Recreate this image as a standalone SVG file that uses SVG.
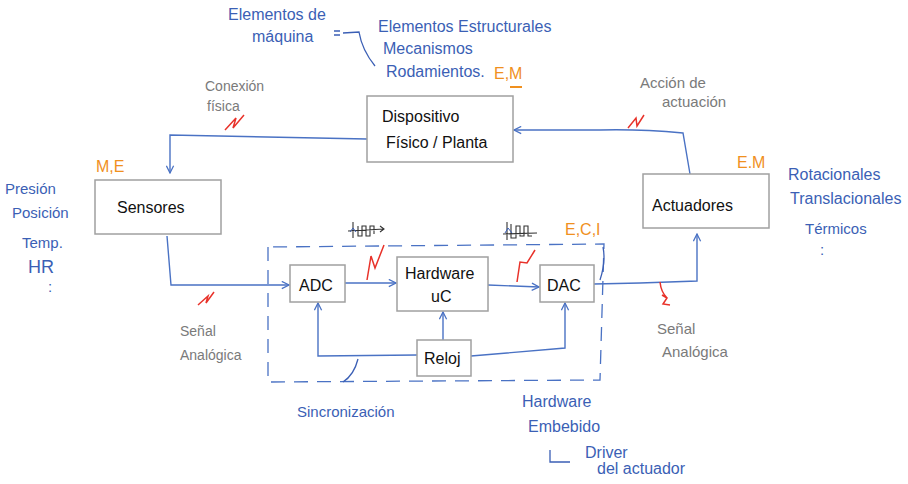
<svg xmlns="http://www.w3.org/2000/svg" width="908" height="484" viewBox="0 0 908 484">
<style>
.box{fill:#fff;stroke:#a0a0a0;stroke-width:1.5}
.lbl{font-family:"Liberation Sans",Arial,sans-serif;font-size:16px;fill:#111}
.blue{font-family:"Liberation Sans",Arial,sans-serif;font-size:15px;fill:#3b5fb5}
.gray{font-family:"Liberation Sans",Arial,sans-serif;font-size:14px;fill:#7a7a7a}
.orn{font-family:"Liberation Sans",Arial,sans-serif;font-size:16px;fill:#f0901e}
.con{fill:none;stroke:#4a72c4;stroke-width:1.4}
.dash{fill:none;stroke:#4a72c4;stroke-width:1.3;stroke-dasharray:14 9}
.red{fill:none;stroke:#e8322a;stroke-width:1.5}
.ink{fill:none;stroke:#3b5fb5;stroke-width:1.3}
</style>
<defs>
<marker id="ah" viewBox="0 0 10 10" refX="9" refY="5" markerWidth="9" markerHeight="9" orient="auto" markerUnits="userSpaceOnUse">
<path d="M1,1 L9,5 L1,9" fill="none" stroke="#4a72c4" stroke-width="1.4"/>
</marker>
</defs>
<rect width="908" height="484" fill="#fff"/>

<g id="connectors">
<path class="con" d="M367,139 L170,135 L170,173" marker-end="url(#ah)"/>
<path class="con" d="M690,174 L683,133 Q640,129 600,130 L514,130" marker-end="url(#ah)"/>
<path class="con" d="M167,236 L171,285 L289,285" marker-end="url(#ah)"/>
<path class="con" d="M345,283 L396,283" marker-end="url(#ah)"/>
<path class="con" d="M488,285 L539,287" marker-end="url(#ah)"/>
<path class="con" d="M594,284 L640,283 L697,281 L697,234" marker-end="url(#ah)"/>
<path class="con" d="M443,340 L443,312" marker-end="url(#ah)"/>
<path class="con" d="M417,355 L318,356 L318,303" marker-end="url(#ah)"/>
<path class="con" d="M471,356 L565,348 L565,303" marker-end="url(#ah)"/>
<path class="dash" d="M268,247 L268,382 L600,380 L604,244 L268,247"/>
</g>

<g id="annotations">
<path class="red" d="M225,130 L236,118 L233,128 L244,115"/>
<path class="red" d="M628,128 L636,118 L637,126 L644,115"/>
<path class="red" d="M367,280 L371,256 L375,268 L384,245"/>
<path class="red" d="M517,282 L520,262 L527,263 L535,250"/>
<path class="red" d="M198,305 L208,296 L206,303 L214,292"/>
<path class="red" d="M660,282 Q661,292 667,298 M662,295 L667,298 L663,304 L670,305"/>
<path class="ink" d="M358,359 Q354,375 343,382"/>
<path class="ink" d="M334,31 L340,31 M334,35 L340,35 M343,33 L359,32 Q362,50 375,66"/>
<path class="ink" d="M603,247 Q606,262 600,280"/>
<path d="M348,231 L384,229 M353,222 L353,238 M358,226 L358,236 L362,236 L362,226 L366,226 L366,236 L370,236 L370,226 L374,226 L374,234 M380,226 L384,229 L380,232" fill="none" stroke="#333" stroke-width="1.1"/>
<path d="M503,234 L537,233 M507,222 L507,240 M511,224 L511,238 L516,238 L516,226 L520,226 L520,236 L524,236 L524,226 L528,226 L528,236 L532,236" fill="none" stroke="#333" stroke-width="1.1"/>
<path d="M350,232 L353,228 L356,232" fill="none" stroke="#3b5fb5" stroke-width="1"/>
<path d="M505,233 L508,228 L512,233" fill="none" stroke="#3b5fb5" stroke-width="1"/>
<path d="M510,87 L522,87" stroke="#f0901e" stroke-width="2"/>
<path d="M550,450 L550,462 L570,462" class="ink"/>
</g>

<g id="dispositivo">
<rect class="box" x="367" y="96" width="146" height="66"/>
<text class="lbl" x="382" y="122">Dispositivo</text>
<text class="lbl" x="386" y="148">Físico / Planta</text>
</g>
<g id="sensores">
<rect class="box" x="95" y="180" width="126" height="54"/>
<text class="lbl" x="117" y="213">Sensores</text>
</g>
<g id="actuadores">
<rect class="box" x="643" y="174" width="126" height="54"/>
<text class="lbl" x="652" y="211">Actuadores</text>
</g>
<g id="adc">
<rect class="box" x="290" y="265" width="55" height="37"/>
<text class="lbl" x="299" y="291">ADC</text>
</g>
<g id="hardware">
<rect class="box" x="397" y="257" width="91" height="54"/>
<text class="lbl" x="405" y="279">Hardware</text>
<text class="lbl" x="431" y="302">uC</text>
</g>
<g id="dac">
<rect class="box" x="540" y="265" width="54" height="37"/>
<text class="lbl" x="547" y="291">DAC</text>
</g>
<g id="reloj">
<rect class="box" x="417" y="340" width="54" height="36"/>
<text class="lbl" x="424" y="364">Reloj</text>
</g>

<g id="labels">
<text class="blue" x="228" y="20" style="font-size:16px">Elementos de</text>
<text class="blue" x="252" y="42" style="font-size:16px">máquina</text>
<text class="blue" x="378" y="32" style="font-size:16px">Elementos Estructurales</text>
<text class="blue" x="383" y="54" style="font-size:16px">Mecanismos</text>
<text class="blue" x="386" y="77" style="font-size:16px">Rodamientos.</text>
<text class="orn" x="494" y="79">E,M</text>
<text class="gray" x="205" y="91">Conexión</text>
<text class="gray" x="207" y="111">física</text>
<text class="gray" x="640" y="88" style="font-size:15px">Acción de</text>
<text class="gray" x="662" y="107" style="font-size:15px">actuación</text>
<text class="orn" x="96" y="172">M,E</text>
<text class="orn" x="737" y="168">E.M</text>
<text class="orn" x="565" y="235">E,C,I</text>
<text class="blue" x="5" y="194">Presión</text>
<text class="blue" x="12" y="218">Posición</text>
<text class="blue" x="22" y="248">Temp.</text>
<text class="blue" x="28" y="273" style="font-size:18px">HR</text>
<text class="blue" x="48" y="292">:</text>
<text class="blue" x="788" y="180" style="font-size:16px">Rotacionales</text>
<text class="blue" x="790" y="204" style="font-size:16px">Translacionales</text>
<text class="blue" x="805" y="234">Térmicos</text>
<text class="blue" x="820" y="255">:</text>
<text class="gray" x="180" y="336">Señal</text>
<text class="gray" x="180" y="360">Analógica</text>
<text class="gray" x="657" y="334" style="font-size:15px">Señal</text>
<text class="gray" x="662" y="357" style="font-size:15px">Analógica</text>
<text class="blue" x="297" y="417">Sincronización</text>
<text class="blue" x="522" y="407" style="font-size:16px">Hardware</text>
<text class="blue" x="528" y="432" style="font-size:16px">Embebido</text>
<text class="blue" x="585" y="458" style="font-size:16px">Driver</text>
<text class="blue" x="597" y="474" style="font-size:16px">del actuador</text>
</g>
</svg>
